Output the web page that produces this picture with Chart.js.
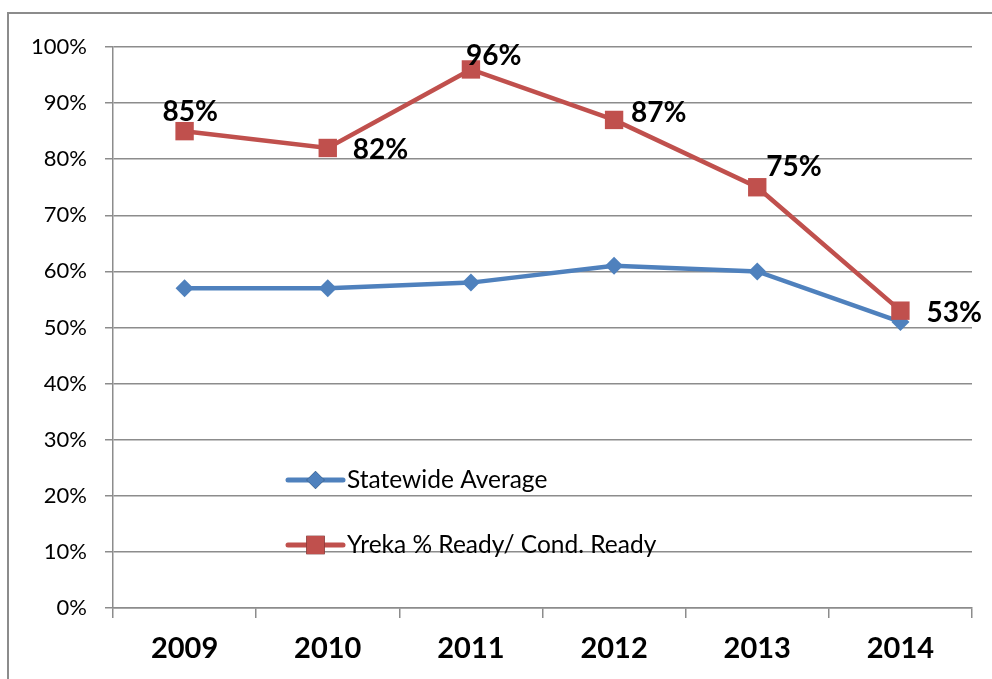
<!DOCTYPE html>
<html lang="en">
	<head>
		<meta charset="utf-8"/>
		<title>Yreka Readiness</title>
		<script src="https://cdn.jsdelivr.net/npm/chart.js@4.4.0/dist/chart.umd.min.js"></script>
		<style>
			html, body {
				margin: 0;
				padding: 0;
				background-color: #ffffff;
			}
			.container {
				width: 992px;
				height: 679px;
			}
		</style>
	</head>

	<body>
		<div class="container">
			<canvas id="myChart" width="992" height="679"></canvas>
		</div>

		<script>
			// values
			const years = ['2009', '2010', '2011', '2012', '2013', '2014'];
			const statewide = [57, 57, 58, 61, 60, 51];
			const yreka = [85, 82, 96, 87, 75, 53];
			const yTicks = [0, 10, 20, 30, 40, 50, 60, 70, 80, 90, 100];

			// where each Yreka label sits relative to its point (dx, dy)
			const labelOffsets = [[-22, -19], [25, 2], [-5, -13], [17, -7], [9, -20], [26, 2]];

			const FONT = 'Lato, "Open Sans", sans-serif';

			const frame = {
				id: 'frame',
				beforeDraw(chart) {
					const ctx = chart.ctx;
					ctx.save();
					ctx.strokeStyle = '#8c8c8c';
					ctx.lineWidth = 2;
					ctx.strokeRect(8, 13, 1100, 800);
					ctx.restore();
				}
			};

			const valueLabels = {
				id: 'valueLabels',
				afterDatasetsDraw(chart) {
					const ctx = chart.ctx;
					const meta = chart.getDatasetMeta(1);
					ctx.save();
					ctx.font = 'bold 28px ' + FONT;
					ctx.fillStyle = '#000';
					ctx.textAlign = 'left';
					ctx.textBaseline = 'middle';
					meta.data.forEach((pt, i) => {
						const off = labelOffsets[i];
						ctx.fillText(yreka[i] + '%', pt.x + off[0], pt.y + off[1]);
					});
					ctx.restore();
				}
			};

			const innerLegend = {
				id: 'innerLegend',
				afterDraw(chart) {
					const ctx = chart.ctx;
					const x0 = 288, lineLen = 55, y0 = 480, gap = 65;
					ctx.save();
					chart.data.datasets.forEach((ds, i) => {
						const y = y0 + i * gap;
						ctx.strokeStyle = ds.borderColor;
						ctx.lineWidth = 5;
						ctx.lineCap = 'round';
						ctx.beginPath();
						ctx.moveTo(x0, y);
						ctx.lineTo(x0 + lineLen, y);
						ctx.stroke();
						Chart.helpers.drawPoint(ctx, {
							pointStyle: ds.pointStyle,
							radius: ds.pointRadius,
							borderWidth: 0
						}, x0 + lineLen / 2, y);
						ctx.fillStyle = ds.pointBackgroundColor;
						ctx.fill();
						ctx.fillStyle = '#000';
						ctx.font = '24.5px ' + FONT;
						ctx.textBaseline = 'middle';
						ctx.textAlign = 'left';
						ctx.fillText(ds.label, x0 + lineLen + 4, y);
					});
					ctx.restore();
				}
			};

			let ch1 = document.getElementById('myChart').getContext('2d');
			let chart1 = new Chart(ch1, {
				type: 'line',
				data: {
					labels: years,
					datasets: [
						{
							label: 'Statewide Average',
							data: statewide,
							borderColor: '#4F81BD',
							backgroundColor: '#4F81BD',
							pointBackgroundColor: '#4F81BD',
							pointBorderColor: '#4F81BD',
							borderWidth: 4.5,
							pointStyle: 'rectRot',
							pointRadius: 9,
							pointBorderWidth: 0,
							order: 1
						},
						{
							label: 'Yreka % Ready/ Cond. Ready',
							data: yreka,
							borderColor: '#C0504D',
							backgroundColor: '#C0504D',
							pointBackgroundColor: '#C0504D',
							pointBorderColor: '#C0504D',
							borderWidth: 4.5,
							pointStyle: 'rect',
							pointRadius: 13,
							pointBorderWidth: 0,
							order: 0
						}
					]
				},
				options: {
					responsive: false,
					animation: false,
					layout: {
						padding: { left: 0, right: 20, top: 47, bottom: 0 }
					},
					plugins: {
						legend: { display: false },
						tooltip: { enabled: false }
					},
					scales: {
						x: {
							offset: true,
							grid: {
								offset: true,
								drawOnChartArea: false,
								color: '#8c8c8c',
								lineWidth: 1.5,
								tickLength: 10
							},
							border: { color: '#8c8c8c', width: 1.5 },
							ticks: {
								color: '#000',
								padding: 13,
								font: { family: FONT, size: 29, weight: 'bold' }
							},
							afterFit(scale) { scale.height = 71; }
						},
						y: {
							min: 0,
							max: 100,
							afterBuildTicks(scale) {
								scale.ticks = yTicks.map(v => ({ value: v }));
							},
							grid: {
								color: '#8c8c8c',
								lineWidth: 1.5,
								tickLength: 8
							},
							border: { color: '#8c8c8c', width: 1.5 },
							ticks: {
								color: '#000',
								padding: 18,
								font: { family: FONT, size: 22 },
								callback: v => v + '%'
							},
							afterFit(scale) { scale.width = 113; }
						}
					}
				},
				plugins: [frame, valueLabels, innerLegend]
			});
		</script>
	</body>
</html>
